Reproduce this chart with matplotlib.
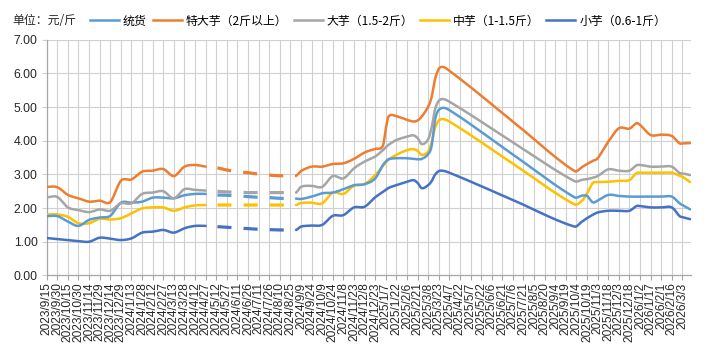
import numpy as np
import pandas as pd
import matplotlib
matplotlib.use("Agg")
import matplotlib.pyplot as plt
import matplotlib.dates as mdates
from matplotlib.lines import Line2D

# price data, 元/斤
dates = ['2023-09-15', '2023-09-30', '2023-10-15', '2023-10-30', '2023-11-14', '2023-11-29', '2023-12-14', '2023-12-29',
         '2024-01-13', '2024-01-28', '2024-02-12', '2024-02-27', '2024-03-13', '2024-03-28', '2024-04-12', '2024-04-27',
         '2024-05-12', '2024-05-27', '2024-06-11', '2024-06-26', '2024-07-11', '2024-07-26', '2024-08-10', '2024-08-25', '2024-09-02',
         '2024-09-09', '2024-09-24', '2024-10-09', '2024-10-24', '2024-11-08', '2024-11-23', '2024-12-08', '2024-12-23',
         '2025-01-03', '2025-01-07', '2025-01-11', '2025-01-22', '2025-02-06', '2025-02-15', '2025-02-21', '2025-02-27',
         '2025-03-08', '2025-03-13', '2025-03-18', '2025-03-25', '2025-04-07', '2025-07-06', '2025-10-01',
         '2025-10-12', '2025-10-19', '2025-10-27', '2025-11-03', '2025-11-18', '2025-12-03', '2025-12-18', '2025-12-28',
         '2026-01-02', '2026-01-17', '2026-02-01', '2026-02-16', '2026-02-27', '2026-03-03', '2026-03-14']

tonghuo = [1.76, 1.76, 1.60, 1.47, 1.65, 1.72, 1.77, 2.16,
           2.16, 2.19, 2.31, 2.31, 2.29, 2.38, 2.42, 2.42,
           2.39, 2.38, 2.36, 2.34, 2.32, 2.31, 2.29, 2.28, 2.28,
           2.27, 2.34, 2.44, 2.46, 2.56, 2.68, 2.71, 2.88,
           3.28, 3.38, 3.45, 3.48, 3.48, 3.46, 3.45, 3.46,
           3.60, 3.85, 4.65, 4.95, 4.91, 3.59, 2.32,
           2.37, 2.36, 2.17, 2.22, 2.39, 2.36, 2.34, 2.34,
           2.34, 2.34, 2.34, 2.34, 2.14, 2.09, 1.96]

tedayu = [2.63, 2.62, 2.39, 2.29, 2.19, 2.22, 2.18, 2.81,
          2.85, 3.08, 3.11, 3.16, 2.95, 3.23, 3.28, 3.23,
          3.20, 3.13, 3.08, 3.05, 3.01, 2.98, 2.96, 2.96, 2.96,
          3.10, 3.23, 3.23, 3.31, 3.33, 3.46, 3.65, 3.76,
          3.85, 4.35, 4.72, 4.73, 4.62, 4.57, 4.60, 4.72,
          5.01, 5.30, 5.85, 6.18, 6.08, 4.57, 3.10,
          3.22, 3.31, 3.40, 3.48, 3.97, 4.37, 4.36, 4.52,
          4.47, 4.17, 4.18, 4.14, 3.92, 3.92, 3.93]

dayu = [2.32, 2.33, 2.02, 1.94, 1.88, 1.96, 1.92, 2.14,
        2.14, 2.42, 2.46, 2.50, 2.29, 2.56, 2.54, 2.52,
        2.50, 2.48, 2.47, 2.46, 2.46, 2.46, 2.46, 2.46, 2.46,
        2.63, 2.66, 2.63, 2.95, 2.88, 3.18, 3.38, 3.53,
        3.72, 3.80, 3.88, 4.02, 4.12, 4.16, 4.08, 3.90,
        4.04, 4.40, 4.95, 5.22, 5.16, 3.95, 2.80,
        2.84, 2.86, 2.90, 2.95, 3.15, 3.11, 3.11, 3.27,
        3.28, 3.23, 3.23, 3.23, 3.04, 3.03, 2.98]

zhongyu = [1.81, 1.81, 1.74, 1.55, 1.55, 1.68, 1.66, 1.70,
           1.84, 1.99, 2.02, 2.02, 1.92, 2.02, 2.08, 2.09,
           2.09, 2.09, 2.09, 2.09, 2.09, 2.09, 2.09, 2.09, 2.09,
           2.15, 2.16, 2.14, 2.46, 2.42, 2.66, 2.71, 2.98,
           3.25, 3.35, 3.44, 3.58, 3.72, 3.75, 3.70, 3.58,
           3.68, 3.95, 4.40, 4.63, 4.57, 3.32, 2.11,
           2.22, 2.44, 2.74, 2.77, 2.78, 2.81, 2.83, 3.04,
           3.05, 3.05, 3.05, 3.05, 2.96, 2.93, 2.77]

xiaoyu = [1.11, 1.08, 1.05, 1.02, 1.00, 1.12, 1.09, 1.05,
          1.10, 1.27, 1.30, 1.35, 1.27, 1.40, 1.47, 1.47,
          1.45, 1.43, 1.41, 1.39, 1.37, 1.36, 1.35, 1.35, 1.35,
          1.45, 1.48, 1.50, 1.77, 1.79, 2.02, 2.04, 2.32,
          2.48, 2.54, 2.60, 2.68, 2.78, 2.83, 2.75, 2.59,
          2.68, 2.80, 3.00, 3.11, 3.05, 2.24, 1.45,
          1.60, 1.70, 1.80, 1.87, 1.92, 1.92, 1.92, 2.06,
          2.06, 2.02, 2.02, 2.02, 1.76, 1.73, 1.67]

names = ['统货', '特大芋（2斤以上）', '大芋（1.5-2斤）', '中芋（1-1.5斤）', '小芋（0.6-1斤）']
series = [tonghuo, tedayu, dayu, zhongyu, xiaoyu]
colors = ['#5B9BD5', '#ED7D31', '#A5A5A5', '#FFC000', '#4472C4']
draw_order = [4, 3, 0, 2, 1]

# summer stretch drawn dashed
gap_start, gap_end = '2024-04-27', '2024-09-02'


def smooth(x, y, n=14):
    # cubic hermite with catmull-rom style slopes, like excel smoothed lines
    x = np.asarray(x, float)
    y = np.asarray(y, float)
    m = np.empty_like(y)
    m[1:-1] = (y[2:] - y[:-2]) / (x[2:] - x[:-2])
    m[0] = (y[1] - y[0]) / (x[1] - x[0])
    m[-1] = (y[-1] - y[-2]) / (x[-1] - x[-2])
    xs, ys = [], []
    t = np.linspace(0, 1, n, endpoint=False)
    for i in range(len(x) - 1):
        h = x[i + 1] - x[i]
        h00 = 2 * t**3 - 3 * t**2 + 1
        h10 = t**3 - 2 * t**2 + t
        h01 = -2 * t**3 + 3 * t**2
        h11 = t**3 - t**2
        xs.append(x[i] + t * h)
        ys.append(h00 * y[i] + h10 * h * m[i] + h01 * y[i + 1] + h11 * h * m[i + 1])
    xs.append([x[-1]])
    ys.append([y[-1]])
    return np.concatenate(xs), np.concatenate(ys)


xd = mdates.date2num(pd.to_datetime(dates))
g0 = mdates.date2num(pd.Timestamp(gap_start))
g1 = mdates.date2num(pd.Timestamp(gap_end))

fig = plt.figure(figsize=(7.13, 3.62), dpi=100)
ax = fig.add_axes([0.0655, 0.2392, 0.9035, 0.6511])

lw = 1.8
for k in draw_order:
    sx, sy = smooth(xd, series[k])
    left = sx <= g0
    mid = (sx >= g0) & (sx <= g1)
    right = sx >= g1
    ax.plot(sx[left], sy[left], color=colors[k], lw=lw, solid_capstyle='round', zorder=3)
    ax.plot(sx[mid], sy[mid], color=colors[k], lw=lw + 0.5, linestyle=(4.5, (4.4, 3.8)),
            dash_capstyle='butt', zorder=3)
    ax.plot(sx[right], sy[right], color=colors[k], lw=lw, solid_capstyle='round', zorder=3)

# axes
tick_dates = pd.date_range('2023-09-15', '2026-03-03', freq='15D')
ax.set_xticks(mdates.date2num(tick_dates))
ax.set_xticklabels([f'{d.year}/{d.month}/{d.day}' for d in tick_dates], rotation=90,
                   fontfamily='Liberation Sans', fontsize=8.6, color='#262626')
ax.set_xlim(mdates.date2num(pd.Timestamp('2023-09-15')), mdates.date2num(pd.Timestamp('2026-03-15')))

ax.set_ylim(0, 7)
ax.set_yticks(np.arange(0, 8, 1))
ax.set_yticklabels([f'{v:.2f}' for v in range(8)], fontfamily='Liberation Sans', fontsize=8.8, color='#262626')

ax.grid(True, color='#D0D0D0', lw=0.8, zorder=0)
ax.set_axisbelow(True)
for s in ['top', 'right']:
    ax.spines[s].set_visible(False)
for s in ['left', 'bottom']:
    ax.spines[s].set_color('#A6A6A6')
    ax.spines[s].set_linewidth(0.9)
ax.tick_params(axis='x', length=3.5, color='#A6A6A6', pad=1.5)
ax.tick_params(axis='y', length=3.5, color='#D0D0D0', pad=3)

cjk = ['Noto Sans CJK SC', 'DejaVu Sans']
fig.text(0.018, 0.942, '单位：元/斤', fontfamily=cjk, fontsize=8.6, color='#262626', va='center', ha='left')

handles = [Line2D([0], [0], color=c, lw=1.8) for c in colors]
fig.legend(handles, names, ncol=5, loc='center left', bbox_to_anchor=(0.126, 0.942), frameon=False,
           prop={'family': cjk, 'size': 8.6}, handlelength=2.4, handletextpad=0.35, columnspacing=0.55,
           borderaxespad=0, borderpad=0)

fig.savefig('out.png', dpi=100)
